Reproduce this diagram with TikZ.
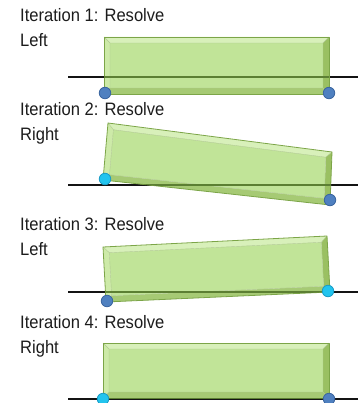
\documentclass[tikz,border=0pt]{standalone}
\usepackage{fontspec}
\setmainfont{Liberation Sans}[FakeStretch=0.92]
\usetikzlibrary{calc}

\definecolor{facegreen}{HTML}{C1E498}
\definecolor{bevtopc}{HTML}{D8F0BA}
\definecolor{bevleftc}{HTML}{CDEAA8}
\definecolor{bevrightc}{HTML}{9AC062}
\definecolor{bevbotc}{HTML}{A6CA74}
\definecolor{edgegreen}{HTML}{7CA548}
\definecolor{groundin}{HTML}{5C7F33}
\definecolor{dotblue}{HTML}{4F80C0}
\definecolor{dotblueedge}{HTML}{3A65A0}
\definecolor{dotcyan}{HTML}{22C4EE}
\definecolor{dotcyanedge}{HTML}{1A9CC6}
\definecolor{labelgray}{HTML}{1C1C1C}

\tikzset{
  label text/.style={anchor=north west, inner sep=0pt, align=left,
    text=labelgray, font=\fontsize{18}{25}\selectfont},
  ground/.style={line width=2.3pt, black!92},
  ground inside/.style={line width=2.3pt, groundin},
  box edge/.style={draw=edgegreen, line width=0.8pt, line join=round},
  bevel seam/.style={draw=edgegreen!60, line width=0.4pt},
  dot/.style={circle, inner sep=0pt, minimum size=11.5pt, line width=0.8pt},
  blue dot/.style={dot, fill=dotblue, draw=dotblueedge},
  cyan dot/.style={dot, fill=dotcyan, draw=dotcyanedge},
}

% bevelled green slab from the four named corners <n>-tl, <n>-tr, <n>-br, <n>-bl
\newcommand\bevelslab[1]{%
  \coordinate (#1-itl) at ($(#1-tl)!6pt!(#1-tr) + (#1-tl)!6pt!(#1-bl) - (#1-tl)$);
  \coordinate (#1-itr) at ($(#1-tr)!6pt!(#1-tl) + (#1-tr)!6pt!(#1-br) - (#1-tr)$);
  \coordinate (#1-ibr) at ($(#1-br)!6pt!(#1-bl) + (#1-br)!6pt!(#1-tr) - (#1-br)$);
  \coordinate (#1-ibl) at ($(#1-bl)!6pt!(#1-br) + (#1-bl)!6pt!(#1-tl) - (#1-bl)$);
  \fill[bevtopc]   (#1-tl) -- (#1-tr) -- (#1-itr) -- (#1-itl) -- cycle;
  \fill[bevrightc] (#1-tr) -- (#1-br) -- (#1-ibr) -- (#1-itr) -- cycle;
  \fill[bevbotc]   (#1-br) -- (#1-bl) -- (#1-ibl) -- (#1-ibr) -- cycle;
  \fill[bevleftc]  (#1-bl) -- (#1-tl) -- (#1-itl) -- (#1-ibl) -- cycle;
  \fill[facegreen] (#1-itl) -- (#1-itr) -- (#1-ibr) -- (#1-ibl) -- cycle;
  \draw[bevel seam] (#1-itl) -- (#1-itr) -- (#1-ibr) -- (#1-ibl) -- cycle
    (#1-tl) -- (#1-itl) (#1-tr) -- (#1-itr) (#1-br) -- (#1-ibr) (#1-bl) -- (#1-ibl);
  \draw[box edge] (#1-tl) -- (#1-tr) -- (#1-br) -- (#1-bl) -- cycle;
}

% ground line, and the part of it seen through the slab
\newcommand\groundline[1]{%
  \draw[ground] (#1-ga) -- (#1-gb);
}
\newcommand\groundthrough[1]{%
  \begin{scope}
    \clip (#1-tl) -- (#1-tr) -- (#1-br) -- (#1-bl) -- cycle;
    \draw[ground inside] (#1-ga) -- (#1-gb);
  \end{scope}
}

\begin{document}
\begin{tikzpicture}[x=1pt, y=-1pt]
  \useasboundingbox (0,0) rectangle (361,403);

  % ---------- iteration 1 ----------
  \node[label text] (lab1) at (20,8) {Iteration 1: Resolve\\Left};
  \coordinate (p1-ga) at (68,77);   \coordinate (p1-gb) at (358,77);
  \coordinate (p1-tl) at (104,37);  \coordinate (p1-tr) at (329,37);
  \coordinate (p1-br) at (329,94);  \coordinate (p1-bl) at (104,94);
  \groundline{p1}
  \bevelslab{p1}
  \groundthrough{p1}
  \node[blue dot] (p1-left)  at (105,93) {};
  \node[blue dot] (p1-right) at (329,93) {};

  % ---------- iteration 2 ----------
  \node[label text] (lab2) at (20,102) {Iteration 2: Resolve\\Right};
  \coordinate (p2-ga) at (68,185);  \coordinate (p2-gb) at (358,185);
  \coordinate (p2-tl) at (108,123); \coordinate (p2-tr) at (332,152);
  \coordinate (p2-br) at (330,205); \coordinate (p2-bl) at (103,180);
  \groundline{p2}
  \bevelslab{p2}
  \groundthrough{p2}
  \node[cyan dot] (p2-left)  at (105,179) {};
  \node[blue dot] (p2-right) at (330,200) {};

  % ---------- iteration 3 ----------
  \node[label text] (lab3) at (20,217) {Iteration 3: Resolve\\Left};
  \coordinate (p3-ga) at (68,292);  \coordinate (p3-gb) at (358,292);
  \coordinate (p3-tl) at (103,247); \coordinate (p3-tr) at (327,236);
  \coordinate (p3-br) at (330,292); \coordinate (p3-bl) at (106,302);
  \groundline{p3}
  \bevelslab{p3}
  \groundthrough{p3}
  \node[blue dot] (p3-left)  at (107,301) {};
  \node[cyan dot] (p3-right) at (328,291) {};

  % ---------- iteration 4 ----------
  \node[label text] (lab4) at (20,315) {Iteration 4: Resolve\\Right};
  \coordinate (p4-ga) at (68,399);  \coordinate (p4-gb) at (358,399);
  \coordinate (p4-tl) at (103,343); \coordinate (p4-tr) at (329,343);
  \coordinate (p4-br) at (329,398); \coordinate (p4-bl) at (103,398);
  \groundline{p4}
  \bevelslab{p4}
  \groundthrough{p4}
  \node[cyan dot] (p4-left)  at (103,399) {};
  \node[blue dot] (p4-right) at (329,399) {};
\end{tikzpicture}
\end{document}
